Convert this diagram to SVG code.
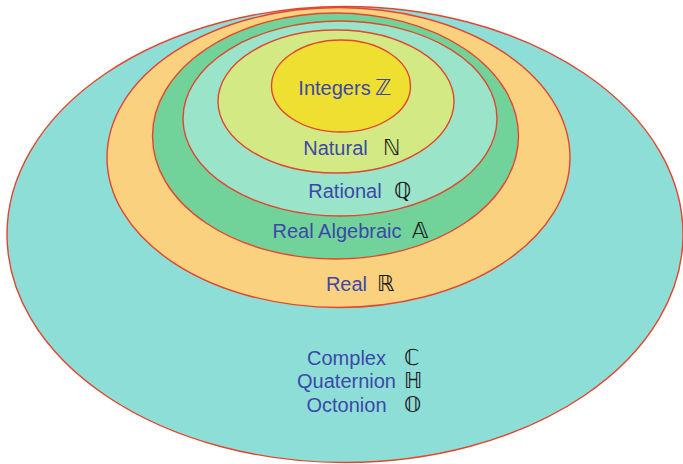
<svg xmlns="http://www.w3.org/2000/svg" width="683" height="464" viewBox="0 0 683 464">
<style>
.e{stroke:#E4452F;stroke-width:1.4}
.t{font-family:"Liberation Sans",Arial,sans-serif;font-size:20px;fill:#3C48A8;text-anchor:middle}
.s{font-family:"DejaVu Sans","Noto Sans",sans-serif;font-size:22px;fill:#1a1a1a}
</style>
<rect width="683" height="464" fill="#ffffff"/>
<g id="octonion">
<ellipse class="e" cx="345" cy="234.5" rx="338" ry="228" fill="#8EDED8"/>
<text class="t" x="346.5" y="365">Complex</text>
<text class="t" x="346.5" y="388">Quaternion</text>
<text class="t" x="346.5" y="412">Octonion</text>
<text class="s" x="404" y="365">ℂ</text>
<text class="s" x="404" y="388">ℍ</text>
<text class="s" x="404" y="412">𝕆</text>
</g>
<g id="real">
<ellipse class="e" cx="338.5" cy="157.5" rx="231.5" ry="150" fill="#FAD17E"/>
<text class="t" x="346.5" y="291">Real</text>
<text class="s" x="377" y="291">ℝ</text>
</g>
<g id="algebraic">
<ellipse class="e" cx="335.5" cy="136" rx="183" ry="123" fill="#72D39A"/>
<text class="t" x="337" y="238">Real Algebraic</text>
<text class="s" x="412" y="238">𝔸</text>
</g>
<g id="rational">
<ellipse class="e" cx="340" cy="118.5" rx="157" ry="97.5" fill="#9AE4CA"/>
<text class="t" x="345" y="198">Rational</text>
<text class="s" x="394" y="198">ℚ</text>
</g>
<g id="natural">
<ellipse class="e" cx="336" cy="101.5" rx="118" ry="71.5" fill="#D3E983"/>
<text class="t" x="335.5" y="155">Natural</text>
<text class="s" x="383" y="155">ℕ</text>
</g>
<g id="integers">
<ellipse class="e" cx="341" cy="86" rx="69.5" ry="46" fill="#EEDF30"/>
<text class="t" x="334.5" y="95">Integers</text>
<text class="s" x="375" y="95" style="fill:#3C48A8">ℤ</text>
</g>
<g id="connectors"/>
</svg>
